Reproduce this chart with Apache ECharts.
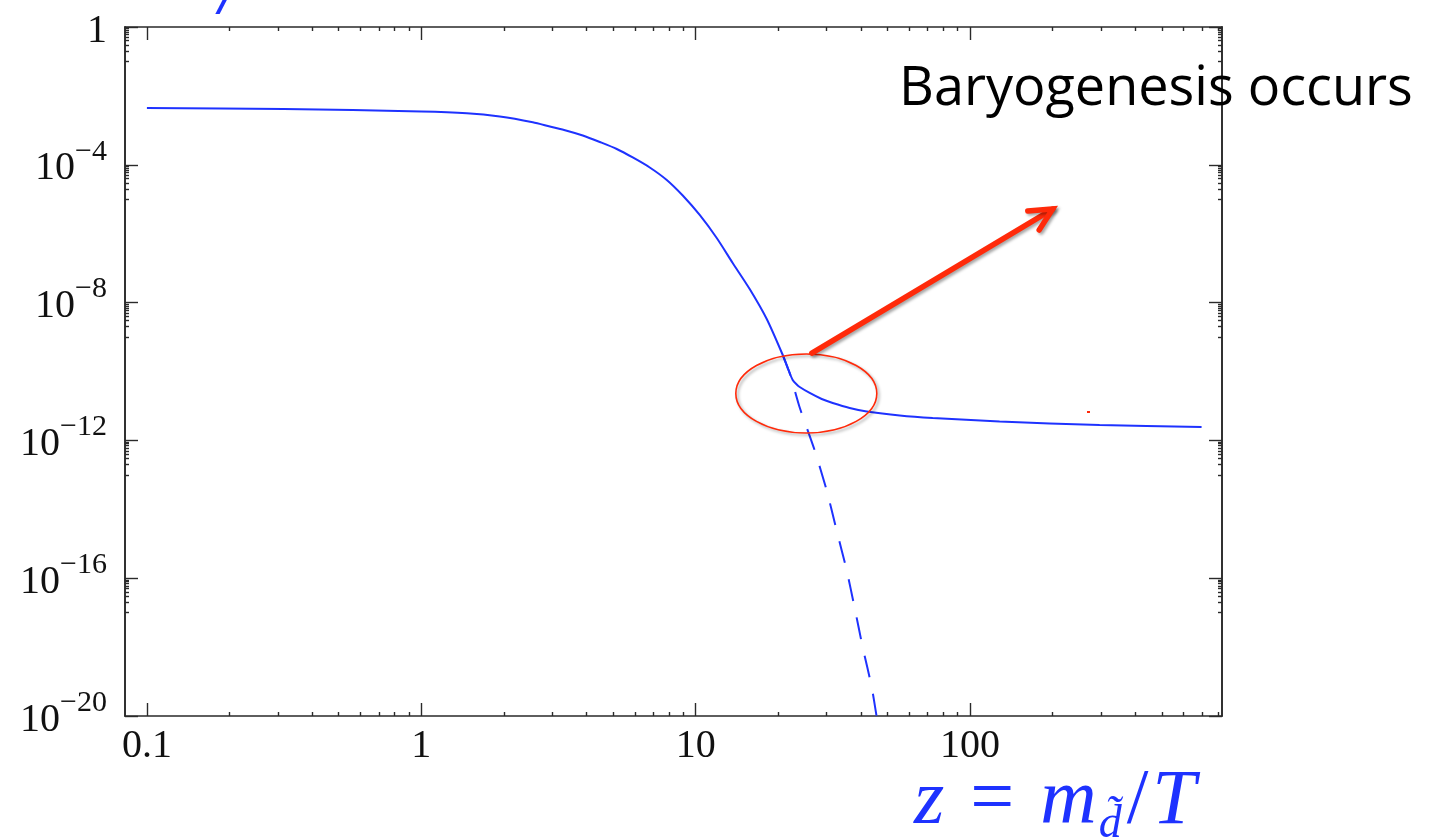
<!DOCTYPE html>
<html lang="en">

<head>
    <meta charset="UTF-8">
    <script src="https://cdn.jsdelivr.net/npm/echarts@6/dist/echarts.min.js"></script>
    <title>Baryogenesis</title>
    <style>
        html, body { margin: 0; padding: 0; background: #fff; }
    </style>
</head>

<body>
    <div id="main" style="width: 1435px;height: 838px;"></div>

    <script>
        // solid curve
        var solidZ = [0.1, 0.3155, 1, 1.465, 1.932, 2.549, 2.94, 3.39, 3.877, 4.472, 5.155, 5.896, 6.8, 7.844, 8.97, 10.34, 11.93, 13.64, 15.73, 18.15, 20.76,
            21.64, 22.57, 23.34, 23.93, 26.03, 28.79, 31.57, 36.4, 42.0, 55.39, 73.03, 128.1, 296.4, 697.6];
        var solidY = [4.45e-3, 4.17e-3, 3.52e-3, 3.13e-3, 2.51e-3, 1.71e-3, 1.29e-3, 9.77e-4, 7.09e-4, 4.59e-4, 2.88e-4, 1.63e-4, 8.35e-5, 3.62e-5, 1.28e-5, 3.49e-6, 7.5e-7, 1.41e-7, 2.48e-8, 3.34e-9, 3.01e-10,
            1.26e-10, 5.66e-11, 4.2e-11, 3.55e-11, 2.38e-11, 1.59e-11, 1.22e-11, 8.73e-12, 6.9e-12, 5.28e-12, 4.47e-12, 3.54e-12, 2.8e-12, 2.45e-12];
        // dashed curve (equilibrium continuation)
        var dashZ = [20.76, 22.0, 23.9, 27.1, 30.0, 32.6, 35.5, 37.9, 40.6, 43.8, 45.6];
        var dashY = [3.01e-10, 9.1e-11, 9.3e-12, 5.3e-13, 3.6e-14, 2.5e-15, 1.7e-16, 1.46e-17, 1e-18, 6.9e-20, 1e-20];

        var xTicks = [0.1, 1, 10, 100];
        var yTicks = [1, 1e-4, 1e-8, 1e-12, 1e-16, 1e-20];

        var xMin = 0.0832, xMax = 828;
        var yMin = 1e-20, yMax = 1;

        // minor ticks: 2..9 in every decade on x, 1..9 of the decade under each major on y
        var xMinor = [];
        for (var n = -1; n <= 2; n++) {
            for (var k = 2; k <= 9; k++) {
                var v = k * Math.pow(10, n);
                if (v <= xMax) xMinor.push(v);
            }
        }
        var yMinor = [];
        [0, -4, -8, -12, -16].forEach(function (m) {
            for (var k = 1; k <= 9; k++) yMinor.push(k * Math.pow(10, m - 1));
        });

        var blue = '#1e32ff';
        var red = '#ff2a0a';
        var axisColor = '#2a2a2a';
        var serif = '"Liberation Serif", "DejaVu Serif", serif';

        function zip(a, b) {
            return a.map(function (v, i) { return [v, b[i]]; });
        }

        function yLabel(val) {
            var e = Math.round(Math.log10(val));
            if (e === 0) return '{b|1}';
            return '{b|10}{s|\u2212' + Math.abs(e) + '}';
        }

        function xAxisOf(pos, ticks, len, labels, line) {
            return {
                type: 'log', logBase: 10, min: xMin, max: xMax, position: pos,
                axisLine: { show: line, lineStyle: { color: axisColor, width: 1.6 } },
                axisTick: { show: true, inside: true, length: len, customValues: ticks, lineStyle: { color: axisColor, width: 1.4 } },
                axisLabel: labels ? {
                    show: true, customValues: ticks, margin: 10,
                    fontFamily: serif, fontSize: 40, color: '#111',
                    formatter: function (v) { return String(v); }
                } : { show: false },
                splitLine: { show: false }
            };
        }

        function yAxisOf(pos, ticks, len, labels) {
            return {
                type: 'log', logBase: 10, min: yMin, max: yMax, position: pos,
                axisLine: { show: true, lineStyle: { color: axisColor, width: 1.6 } },
                axisTick: { show: true, inside: true, length: len, customValues: ticks, lineStyle: { color: axisColor, width: 1.4 } },
                axisLabel: labels ? {
                    show: true, customValues: ticks, margin: 18,
                    formatter: yLabel,
                    rich: {
                        b: { fontFamily: serif, fontSize: 40, color: '#111', padding: [8, 0, 0, 0] },
                        s: { fontFamily: serif, fontSize: 30, color: '#111', padding: [0, 0, 26, 0] }
                    }
                } : { show: false },
                splitLine: { show: false }
            };
        }

        var chartDom = document.getElementById('main');
        var myChart = echarts.init(chartDom);
        var option = {
            animation: false,
            grid: { left: 125, right: 213, top: 27, bottom: 122 },
            xAxis: [
                xAxisOf('bottom', xTicks, 13, true, true),
                xAxisOf('bottom', xMinor, 4, false, false),
                xAxisOf('top', xTicks, 13, false, true),
                xAxisOf('top', xMinor, 4, false, false)
            ],
            yAxis: [
                yAxisOf('left', yTicks, 13, true),
                yAxisOf('left', yMinor, 4, false),
                yAxisOf('right', yTicks, 13, false),
                yAxisOf('right', yMinor, 4, false)
            ],
            series: [
                {
                    name: 'solid', type: 'line', xAxisIndex: 0, yAxisIndex: 0,
                    data: zip(solidZ, solidY), showSymbol: false,
                    smooth: 0.25,
                    lineStyle: { color: blue, width: 2 }
                },
                {
                    name: 'dashed', type: 'line', xAxisIndex: 0, yAxisIndex: 0,
                    data: zip(dashZ, dashY), showSymbol: false,
                    smooth: 0.2,
                    lineStyle: { color: blue, width: 2, type: [22, 17] }
                }
            ]
        };
        myChart.setOption(option);

        // annotations, anchored on data coordinates
        var c = myChart.convertToPixel({ xAxisIndex: 0, yAxisIndex: 0 }, [25.3, 2.3e-11]);
        var a0 = myChart.convertToPixel({ xAxisIndex: 0, yAxisIndex: 0 }, [26.5, 3.4e-10]);
        var a1 = myChart.convertToPixel({ xAxisIndex: 0, yAxisIndex: 0 }, [200, 5.2e-6]);
        var ang = Math.atan2(a0[1] - a1[1], a0[0] - a1[0]);
        var arm = 25, spread = 0.46;
        var h1 = [a1[0] + arm * Math.cos(ang + spread), a1[1] + arm * Math.sin(ang + spread)];
        var h2 = [a1[0] + arm * Math.cos(ang - spread), a1[1] + arm * Math.sin(ang - spread)];
        var shadow = { shadowColor: 'rgba(0,0,0,0.35)', shadowBlur: 3, shadowOffsetX: 2, shadowOffsetY: 2 };

        myChart.setOption({
            graphic: [
                {
                    type: 'ellipse', z: 100,
                    shape: { cx: c[0], cy: c[1], rx: 70.5, ry: 39.5 },
                    style: Object.assign({ fill: 'none', stroke: red, lineWidth: 1.6 }, shadow)
                },
                {
                    type: 'line', z: 100,
                    shape: { x1: a0[0], y1: a0[1], x2: a1[0], y2: a1[1] },
                    style: Object.assign({ stroke: red, lineWidth: 5.5, lineCap: 'round' }, shadow)
                },
                {
                    type: 'polyline', z: 100,
                    shape: { points: [h1, a1, h2] },
                    style: Object.assign({ stroke: red, lineWidth: 5.5, lineCap: 'round', lineJoin: 'miter', fill: 'none' }, shadow)
                },
                {
                    type: 'rect', z: 100,
                    shape: { x: 1087, y: 411, width: 3, height: 2 },
                    style: { fill: red }
                },
                {
                    type: 'text', z: 110, left: 899, top: 63,
                    style: { text: 'Baryogenesis occurs', font: '54px "Open Sans", Lato, sans-serif', fill: '#000' }
                },
                {
                    type: 'text', z: 110, left: 914, top: 763,
                    style: {
                        text: '{z|z}{r|=}{m|m}{d|d\u0303}{s|/}{t|T}',
                        rich: {
                            z: { fontFamily: serif, fontStyle: 'italic', fontSize: 78, fill: blue, padding: [0, 26, 0, 0] },
                            r: { fontFamily: serif, fontSize: 78, fill: blue, padding: [0, 26, 0, 0] },
                            m: { fontFamily: serif, fontStyle: 'italic', fontSize: 78, fill: blue },
                            d: { fontFamily: serif, fontStyle: 'italic', fontSize: 46, fill: blue, padding: [46, 5, 0, 2] },
                            s: { fontFamily: serif, fontSize: 78, fill: blue },
                            t: { fontFamily: serif, fontStyle: 'italic', fontSize: 78, fill: blue, padding: [0, 0, 0, 4] }
                        }
                    }
                },
                {
                    type: 'text', z: 110, left: 219, top: -48,
                    style: { text: '/', font: 'italic 80px ' + serif, fill: blue }
                }
            ]
        });
    </script>
</body>

</html>
